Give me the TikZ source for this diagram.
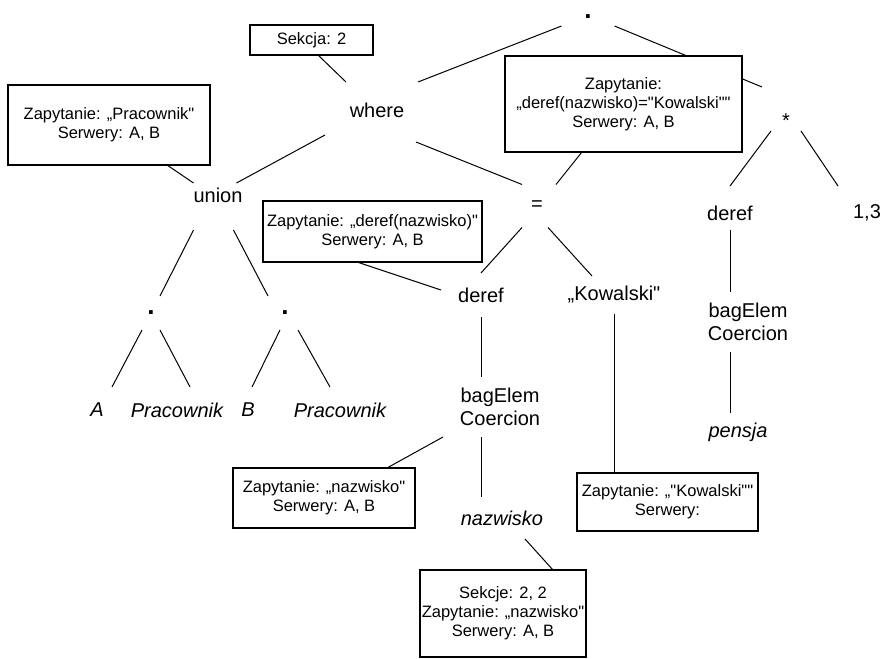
\documentclass[tikz,border=0pt]{standalone}
\usepackage{fontspec}
\setmainfont{Liberation Sans}
\newfontfamily\arialish{Liberation Sans}
\usetikzlibrary{backgrounds}
\newcommand\treefont{\arialish\fontsize{20}{23}\selectfont}
\newcommand\notefont{\arialish\fontsize{16.5}{18.8}\selectfont}
\newcommand\dotfont{\arialish\bfseries\fontsize{26}{26}\selectfont}

\begin{document}
\begin{tikzpicture}[x=1pt,y=-1pt,
  lab/.style={font=\treefont, inner sep=0pt, outer sep=0pt, align=center},
  leaf/.style={lab, font=\treefont\itshape},
  dotop/.style={lab, font=\dotfont},
  note/.style={draw, fill=white, line width=1.1pt, font=\notefont,
    align=center, inner sep=0pt, outer sep=0pt},
  edge/.style={line width=1pt}
]
\useasboundingbox (0,0) rectangle (887,659);

% --- operator tree ---
\node[dotop, minimum width=53, minimum height=18] (top) at (588,17) {.};
\node[lab, minimum width=82, minimum height=56] (where) at (377,110) {where};
\node[lab, minimum width=30, minimum height=20] (star) at (786,121) {*};
\node[lab, minimum width=44, minimum height=24] (union) at (218,195) {union};
\node[lab, minimum width=30, minimum height=43] (eq) at (537,206) {=};
\node[dotop, minimum width=18, minimum height=34] (d1) at (151,313) {.};
\node[dotop, minimum width=18, minimum height=34] (d2) at (285,313) {.};
\node[leaf, minimum width=30, minimum height=46] (la) at (97,410) {A};
\node[leaf, minimum height=46] (lp1) at (177,410) {Pracownik};
\node[leaf, minimum height=46] (lb) at (248,410) {B};
\node[leaf, minimum height=46] (lp2) at (340,410) {Pracownik};
\node[lab, minimum width=80, minimum height=44] (der1) at (481,295) {deref};
\node[lab, minimum height=38] (kow) at (614,295) {„Kowalski"};
\node[lab, minimum width=114, minimum height=60] (bag1) at (500,407) {bagElem\\Coercion};
\node[leaf, minimum height=42] (naz) at (502,518) {nazwisko};
\node[lab, minimum width=50, minimum height=34] (der2) at (730,213) {deref};
\node[lab, minimum width=58, minimum height=34] (one3) at (867,213) {1,3};
\node[lab, minimum width=84, minimum height=60] (bag2) at (748,322) {bagElem\\Coercion};
\node[leaf, minimum height=38] (pen) at (738,432) {pensja};

% --- annotation boxes ---
\node[note, minimum width=123, minimum height=30] (sek) at (311.5,40) {Sekcja: 2};
\node[note, minimum width=202, minimum height=80] (qprac) at (109,125)
  {Zapytanie: „Pracownik"\\Serwery: A, B};
\node[note, minimum width=237, minimum height=96] (qwhere) at (623.5,104)
  {Zapytanie:\\„deref(nazwisko)="Kowalski""\\Serwery: A, B};
\node[note, minimum width=219, minimum height=61] (qder) at (372.5,231.5)
  {Zapytanie: „deref(nazwisko)"\\Serwery: A, B};
\node[note, minimum width=182, minimum height=60] (qnaz) at (324,498)
  {Zapytanie: „nazwisko"\\Serwery: A, B};
\node[note, minimum width=181, minimum height=58] (qkow) at (667.5,502)
  {Zapytanie: „"Kowalski""\\Serwery:};
\node[note, minimum width=166, minimum height=87] (qsek) at (503,613.5)
  {Sekcje: 2, 2\\Zapytanie: „nazwisko"\\Serwery: A, B};

\begin{pgfonlayer}{background}
\fill[white] (0,0) rectangle (887,659);
\begin{scope}[edge]
  % tree edges
  \draw (top.south west) -- (where.north east);
  \draw (top.south east) -- ([xshift=-9pt,yshift=24pt]star.north west);
  \draw ([xshift=-11pt,yshift=3pt]where.south west) -- ([xshift=-6pt]union.north east);
  \draw ([xshift=-2pt,yshift=-4pt]where.south east) -- (eq.north west);
  \draw ([yshift=-23pt]union.south west) -- (d1.north east);
  \draw ([xshift=-9pt,yshift=-23pt]union.south east) -- ([xshift=-8pt]d2.north west);
  \draw (d1.south west) -- (la.north east);
  \draw (d1.south east) -- ([xshift=13pt]lp1.north);
  \draw ([xshift=4pt]d2.south west) -- ([xshift=4pt]lb.north);
  \draw ([xshift=4pt]d2.south east) -- ([xshift=-10pt]lp2.north);
  \draw (eq.south west) -- (der1.north);
  \draw ([xshift=-4pt]eq.south east) -- ([xshift=-22pt]kow.north);
  \draw (der1.south) -- (der1.south |- bag1.north);
  \draw (der1.south |- bag1.south) -- (der1.south |- naz.north);
  \draw (star.south west) -- ([yshift=10pt]der2.north);
  \draw (star.south east) -- ([yshift=10pt]one3.north west);
  \draw (der2.south) -- (der2.south |- bag2.north);
  \draw (der2.south |- bag2.south) -- (der2.south |- pen.north);
  % annotation links
  \draw ([xshift=6.5pt]sek.south) -- ([xshift=10pt]where.north west);
  \draw ([xshift=58pt]qprac.south) -- (union.north west);
  \draw ([xshift=-41.5pt]qwhere.south) -- ([xshift=4pt]eq.north east);
  \draw ([xshift=-15.5pt]qder.south) -- ([yshift=5pt]der1.west);
  \draw (bag1.south west) -- ([xshift=63pt]qnaz.north);
  \draw (kow.south) -- (kow.south |- qkow.north);
  \draw ([xshift=23pt]naz.south) -- ([xshift=50pt]qsek.north);
\end{scope}
\end{pgfonlayer}
\end{tikzpicture}
\end{document}
